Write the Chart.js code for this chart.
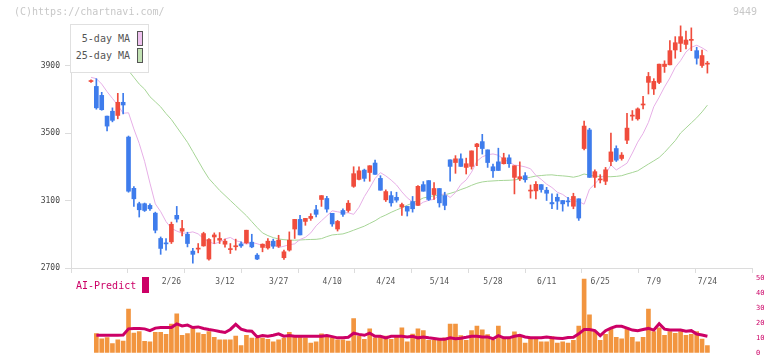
<!DOCTYPE html>
<html>
<head>
<meta charset="utf-8">
<script src="https://cdn.jsdelivr.net/npm/chart.js@4.4.1/dist/chart.umd.min.js"></script>
<style>
  html, body { margin: 0; padding: 0; background: #fff; }
  #wrap { position: relative; width: 772px; height: 361px; overflow: hidden; font-family: 'DejaVu Sans Mono', monospace; }
  canvas { position: absolute; left: 0; top: 0; }
  .txt { position: absolute; font-size: 10px; line-height: 12px; white-space: nowrap; }
  .copy { left: 14px; top: 6px; color: #c8c8c8; }
  .code { left: 733px; top: 6px; color: #c8c8c8; }
  .lg { position: absolute; left: 70px; top: 24px; width: 77px; height: 47px; border: 1px solid #e0e0e0; background: #fff; }
  .lgt { color: #555; text-align: right; width: 60px; }
  .sw { position: absolute; width: 4px; height: 13px; border: 1px solid #555; }
  .ai { left: 76px; top: 280px; color: #cc0066; }
  .aisw { position: absolute; left: 142px; top: 277px; width: 7px; height: 16px; background: #cc0066; }
</style>
</head>
<body>
<div id="wrap">
  <canvas id="main" width="772" height="361"></canvas>
  <canvas id="sub" width="772" height="361"></canvas>
  <div class="txt copy">(C)https://chartnavi.com/</div>
  <div class="txt code">9449</div>
  <div class="lg"></div>
  <div class="txt lgt" style="left:70px;top:33px;">5-day MA</div>
  <div class="sw" style="left:137px;top:31px;background:#efc2ef;"></div>
  <div class="txt lgt" style="left:70px;top:50px;">25-day MA</div>
  <div class="sw" style="left:137px;top:48px;background:#c2e2b4;"></div>
  <div class="txt ai">AI-Predict</div>
  <div class="aisw"></div>
</div>
<script>
// Daily candles (index 0 = first day shown)
const opens = [3805,3776,3723,3600,3629,3604,3682,3476,3172,3081,3081,3071,3025,2875,2847,2855,3012,2918,2900,2800,
  2812,2831,2753,2884,2865,2841,2809,2826,2843,2849,2853,2776,2822,2819,2859,2829,2761,2806,2931,2988,
  2976,2994,3045,3106,3112,3024,2931,3041,3041,3184,3225,3280,3266,3322,3231,3104,3129,3119,3061,3065,
  3094,3071,3194,3218,3135,3171,3129,3341,3325,3347,3296,3302,3419,3449,3400,3300,3329,3318,3353,3237,
  3229,3247,3156,3157,3194,3161,3088,3119,3100,3097,3066,3110,3408,3518,3237,3222,3214,3331,3408,3349,
  3457,3600,3584,3666,3800,3761,3800,3894,3904,3992,4031,4025,4049,3988,3900,3908];
const highs = [3815,3822,3741,3600,3649,3735,3735,3482,3182,3090,3085,3081,3031,2884,2875,2972,3065,2982,2912,2816,
  2845,2912,2875,2908,2910,2871,2845,2871,2855,2924,2900,2786,2843,2875,2871,2894,2806,2914,2988,3012,
  2994,3022,3071,3129,3124,3024,2982,3051,3100,3300,3300,3286,3306,3339,3247,3163,3153,3149,3084,3065,
  3124,3188,3212,3218,3206,3171,3149,3341,3366,3376,3351,3394,3439,3492,3400,3316,3410,3380,3371,3306,
  3329,3266,3192,3212,3194,3178,3139,3139,3100,3119,3143,3110,3571,3528,3282,3253,3296,3500,3424,3384,
  3616,3633,3649,3718,3859,3822,3908,3928,4047,4071,4135,4104,4123,4008,3992,3924];
const lows = [3800,3641,3635,3512,3566,3584,3613,3149,3065,3002,3035,3041,2908,2781,2806,2845,2972,2890,2825,2728,
  2790,2829,2747,2845,2845,2824,2786,2806,2822,2845,2820,2749,2796,2812,2816,2822,2751,2800,2875,2896,
  2953,2982,3002,3065,3031,2947,2919,3006,3031,3178,3222,3214,3214,3255,3161,3094,3067,3090,3012,3008,
  3031,3071,3155,3100,3106,3061,3045,3214,3261,3302,3257,3286,3306,3375,3296,3237,3278,3316,3296,3139,
  3218,3208,3114,3110,3149,3100,3051,3047,3037,3066,3051,2982,3400,3237,3178,3204,3194,3306,3331,3339,
  3437,3575,3576,3643,3731,3728,3792,3859,3904,3943,3982,3998,3988,3908,3888,3855];
const closes = [3810,3649,3638,3541,3575,3682,3666,3155,3110,3045,3041,3051,2924,2816,2843,2959,2990,2934,2845,2781,
  2818,2904,2869,2896,2875,2859,2812,2829,2831,2924,2825,2753,2841,2859,2829,2865,2796,2865,2988,2896,
  2994,3006,3018,3129,3049,2961,2976,3018,3084,3259,3276,3231,3306,3255,3161,3153,3086,3102,3076,3037,
  3051,3184,3155,3106,3171,3086,3071,3302,3347,3302,3318,3394,3435,3408,3325,3276,3278,3353,3318,3306,
  3241,3223,3159,3196,3165,3143,3080,3096,3080,3092,3124,2996,3541,3237,3271,3225,3282,3388,3339,3369,
  3529,3604,3643,3671,3835,3806,3908,3908,3988,4035,4071,4051,4053,3943,3959,3912];

// Moving averages as drawn
const ma5 = [3830,3822,3790,3745,3705,3665,3617,3620,3524,3438,3332,3203,3080,3034,2975,2935,2919,2906,2908,2914,
  2902,2874,2856,2843,2854,2872,2881,2862,2854,2841,2851,2844,2832,2835,2840,2821,2829,2838,2843,2869,
  2882,2908,2950,2980,3009,3039,3033,3027,3027,3018,3060,3123,3174,3231,3265,3246,3221,3192,3151,3116,
  3091,3070,3090,3101,3107,3133,3140,3118,3147,3195,3222,3268,3333,3359,3371,3376,3368,3344,3328,3310,
  3306,3299,3288,3249,3225,3197,3177,3149,3136,3113,3098,3094,3078,3167,3198,3234,3254,3311,3281,3301,
  3321,3381,3446,3497,3563,3656,3712,3773,3826,3889,3929,3980,4008,4020,4005,3985];
const ma25 = [4100,4070,4040,4005,3970,3940,3905,3870,3830,3790,3760,3715,3685,3655,3615,3580,3535,3490,3445,3390,
  3335,3280,3230,3195,3160,3130,3100,3070,3040,3010,2975,2940,2908,2892,2880,2872,2868,2865,2865,2866,
  2868,2869,2870,2874,2886,2896,2899,2902,2912,2924,2936,2948,2964,2980,3000,3014,3030,3044,3057,3072,
  3085,3100,3115,3122,3128,3131,3134,3142,3152,3165,3176,3190,3202,3210,3214,3216,3218,3219,3220,3222,
  3227,3232,3238,3245,3248,3251,3252,3248,3246,3243,3238,3245,3257,3250,3245,3242,3241,3241,3243,3247,
  3257,3266,3276,3296,3316,3335,3355,3385,3420,3455,3500,3530,3560,3590,3625,3665];

// Lower panel
const volume = [null,12.9,9.4,10.2,6.1,8.6,7.9,29.2,13.1,14.2,7.7,7.3,13.6,13.6,12.3,19.2,26.1,11.7,12.9,16.3,
  13.4,12.3,14.2,10.4,8.6,8.6,8.6,11.1,4.8,11.7,9.8,9.8,9.8,9.0,7.3,8.6,9.8,13.6,11.7,11.7,
  10.0,6.5,7.3,12.7,11.1,10.0,8.6,8.6,7.9,22.9,11.1,9.0,16.1,10.0,10.6,11.1,9.0,11.1,16.7,7.3,
  12.5,16.1,14.8,8.4,8.4,9.0,10.0,19.2,19.2,11.5,8.4,14.8,17.9,15.4,12.1,8.4,17.9,10.0,9.0,14.0,
  11.5,6.5,10.4,10.0,7.3,7.3,10.8,6.5,7.3,6.5,8.4,17.9,49.2,25.4,14.2,8.4,12.3,16.1,10.4,9.4,
  16.7,10.4,7.3,10.4,29.2,14.2,16.7,11.7,14.2,13.0,14.2,11.7,12.3,14.2,9.2,4.8];
const aiPredict = [null,11.7,11.7,11.7,11.7,11.7,11.9,16.0,16.3,16.3,16.0,14.8,16.5,16.9,16.9,16.9,19.3,17.9,18.5,16.9,
  17.3,16.3,15.6,15.0,14.2,13.6,15.6,19.0,15.8,14.8,14.4,10.6,11.5,11.1,11.7,12.7,11.1,11.5,11.1,11.1,
  11.1,11.1,11.1,11.1,11.5,10.8,10.0,10.0,10.4,13.1,12.3,11.7,13.1,11.1,11.1,10.0,11.1,11.1,11.1,10.6,
  11.1,10.0,10.6,10.0,9.6,9.0,9.0,10.0,9.4,9.8,10.4,11.1,11.1,10.6,10.6,9.4,11.5,10.0,10.0,11.1,
  11.7,10.6,10.0,10.0,10.0,10.6,10.0,9.8,9.6,10.2,10.4,12.7,15.6,15.6,14.8,11.5,14.8,16.5,17.7,17.7,
  16.5,15.2,14.8,15.6,16.3,15.2,19.4,15.8,15.2,15.2,15.2,14.4,14.8,12.5,11.9,11.1];

const tickLabels = ['2/26','3/12','3/27','4/10','4/24','5/14','5/28','6/11','6/25','7/9','7/24'];
const tickIndex = [15,25,35,45,55,65,75,85,95,105,115];
const yTicks = [2700,3100,3500,3900];
const subTicks = [0,10,20,30,40,50];

const MONO = "'DejaVu Sans Mono', monospace";
const RED = '#f04c3c';
const BLUE = '#3e7cec';
const AXIS = '#dcdcdc';
const X_MIN = -3.73, X_MAX = 123.32;

const isUp = i => closes[i] >= opens[i];
const candleColor = ctx => isUp(ctx.dataIndex) ? RED : BLUE;
const pts = arr => arr.map((v, i) => ({ x: i, y: v }));

new Chart(document.getElementById('main'), {
  type: 'bar',
  data: {
    datasets: [
      {
        type: 'line', label: '25-day MA', data: pts(ma25),
        borderColor: '#a6d596', borderWidth: 1, pointRadius: 0, tension: 0, order: 3
      },
      {
        type: 'line', label: '5-day MA', data: pts(ma5),
        borderColor: '#e7afe7', borderWidth: 1, pointRadius: 0, tension: 0, order: 2
      },
      {
        label: 'wick', data: lows.map((l, i) => ({ x: i, y: [l, highs[i]] })),
        backgroundColor: candleColor, barThickness: 1, grouped: false, order: 1
      },
      {
        label: 'body', data: opens.map((o, i) => ({ x: i, y: [o, closes[i]] })),
        backgroundColor: candleColor, barThickness: 4, minBarLength: 1, grouped: false, order: 0
      }
    ]
  },
  options: {
    responsive: false,
    animation: false,
    layout: { padding: { left: 0, right: 20, top: 25, bottom: 68 } },
    plugins: { legend: { display: false }, tooltip: { enabled: false } },
    scales: {
      x: {
        type: 'linear', min: X_MIN, max: X_MAX, offset: false, weight: 1,
        afterBuildTicks: s => { s.ticks = tickIndex.map(v => ({ value: v })); },
        afterFit: s => { s.height = 20; },
        ticks: {
          autoSkip: false, maxRotation: 0, padding: 4,
          font: { family: MONO, size: 8 }, color: '#555',
          callback: (v, k) => tickLabels[k]
        },
        grid: { display: false, drawTicks: false },
        border: { display: false }
      },
      x2: {
        type: 'linear', position: 'bottom', min: 0, max: 11, weight: 0,
        afterFit: s => { s.height = 5; },
        ticks: { display: false, stepSize: 1 },
        grid: { drawOnChartArea: false, tickLength: 5, color: AXIS },
        border: { color: AXIS }
      },
      y: {
        min: 2700, max: 4140,
        afterBuildTicks: s => { s.ticks = yTicks.map(v => ({ value: v })); },
        afterFit: s => { s.width = 71; },
        ticks: { font: { family: MONO, size: 8 }, color: '#444', padding: 5, callback: v => String(v) },
        grid: { drawOnChartArea: false, tickLength: 6, color: AXIS },
        border: { color: AXIS }
      }
    }
  }
});

new Chart(document.getElementById('sub'), {
  type: 'bar',
  data: {
    datasets: [
      {
        type: 'line', label: 'AI-Predict', data: pts(aiPredict),
        borderColor: '#cc0066', borderWidth: 3, pointRadius: 0, tension: 0, order: 0
      },
      {
        label: 'volume', data: pts(volume),
        backgroundColor: '#f2953f', barThickness: 4, order: 1
      }
    ]
  },
  options: {
    responsive: false,
    animation: false,
    layout: { padding: { left: 71, right: 0, top: 278, bottom: 3 } },
    plugins: { legend: { display: false }, tooltip: { enabled: false } },
    scales: {
      x: { type: 'linear', min: X_MIN, max: X_MAX, offset: false, display: false },
      y: {
        position: 'right', min: 0, max: 50,
        afterBuildTicks: s => { s.ticks = subTicks.map(v => ({ value: v })); },
        afterFit: s => { s.width = 20; },
        ticks: { font: { family: MONO, size: 7 }, color: '#cc0066', padding: 4, callback: v => String(v) },
        grid: { display: false, drawTicks: false },
        border: { display: false }
      }
    }
  }
});
</script>
</body>
</html>
